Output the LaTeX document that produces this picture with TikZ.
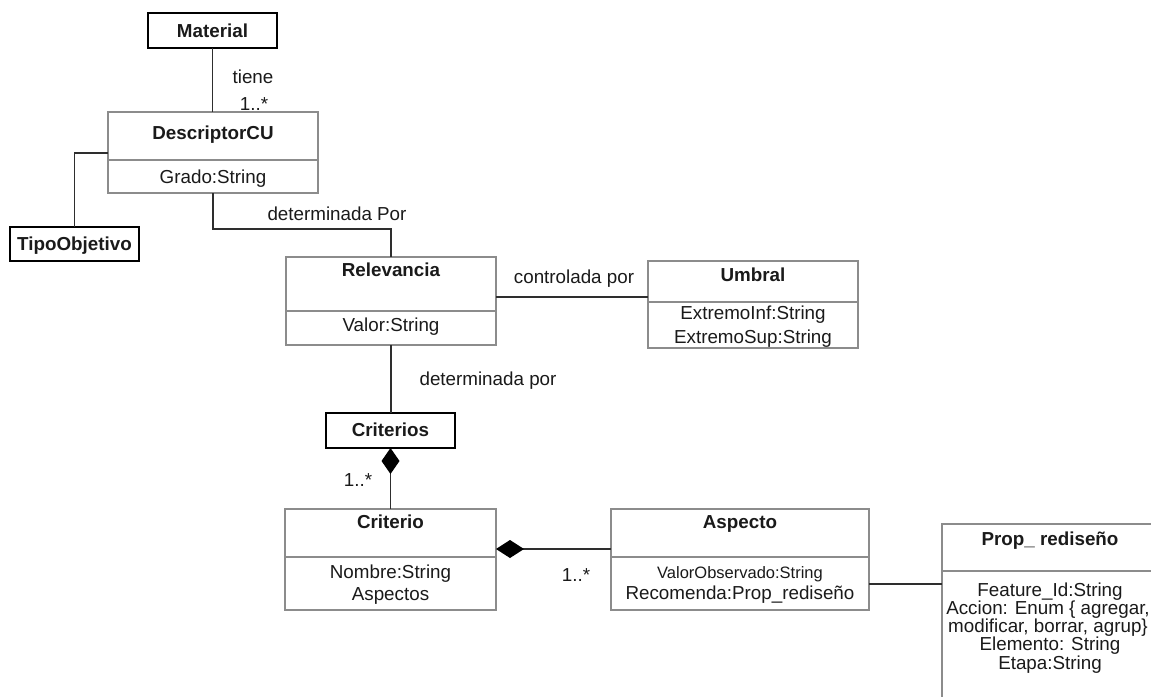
\documentclass[tikz,border=0pt]{standalone}
\usepackage{fontspec}
\setmainfont{Liberation Sans}
\usetikzlibrary{arrows.meta}
\definecolor{ink}{HTML}{1A1A1A}
\definecolor{boxgray}{HTML}{8C8C8C}
\definecolor{linegray}{HTML}{2E2E2E}
\begin{document}
\begin{tikzpicture}[x=1pt,y=-1pt,
  every node/.style={inner sep=0pt, outer sep=0pt},
  classbox/.style={draw=boxgray, line width=1.1pt, fill=white},
  refbox/.style={draw=black, line width=2pt, fill=white},
  txt/.style={text=ink, font=\fontsize{18.8pt}{22pt}\selectfont, text height=13.5pt, text depth=0pt},
  smalltxt/.style={text=ink, font=\fontsize{16.5pt}{20pt}\selectfont, text height=12pt, text depth=0pt},
  title/.style={txt, font=\fontsize{18.8pt}{22pt}\selectfont\bfseries},
  divider/.style={draw=boxgray, line width=1.1pt},
  conn/.style={draw=linegray, line width=1.5pt},
  compos/.style={conn, {Diamond[length=#1, width=18pt, color=black]}-}
]
\useasboundingbox[fill=white] (0,0) rectangle (1151,696);

% ---- Material / DescriptorCU / TipoObjetivo ----
\node[refbox, minimum width=129pt, minimum height=35pt] (mat) at (212.5,30.5) {};
\node[title] (matT) at (212.5,31) {Material};

\node[classbox, minimum width=210pt, minimum height=81pt] (desc) at (213,152.5) {};
\draw[divider] ([yshift=-48pt]desc.north west) -- ([yshift=-48pt]desc.north east);
\node[title] (descT) at (213,133) {DescriptorCU};
\node[txt] (descA) at (213,177) {Grado:String};

\node[refbox, minimum width=129pt, minimum height=34pt] (tipo) at (74.5,244) {};
\node[title] (tipoT) at (74.5,244) {TipoObjetivo};

% ---- Relevancia / Umbral ----
\node[classbox, minimum width=210pt, minimum height=88pt] (rel) at (391,301) {};
\draw[divider] ([yshift=-54pt]rel.north west) -- ([yshift=-54pt]rel.north east);
\node[title] (relT) at (391,270) {Relevancia};
\node[txt] (relA) at (391,325) {Valor:String};

\node[classbox, minimum width=210pt, minimum height=87pt] (umb) at (753,304.5) {};
\draw[divider] ([yshift=-41pt]umb.north west) -- ([yshift=-41pt]umb.north east);
\node[title] (umbT) at (753,275) {Umbral};
\node[txt] (umbA) at (753,313) {ExtremoInf:String};
\node[txt] (umbB) at (753,337) {ExtremoSup:String};

% ---- Criterios / Criterio / Aspecto / Prop_rediseno ----
\node[refbox, minimum width=129pt, minimum height=35pt] (crits) at (390.5,430.5) {};
\node[title] (critsT) at (390.5,430) {Criterios};

\node[classbox, minimum width=211pt, minimum height=101pt] (crit) at (390.5,559.5) {};
\draw[divider] ([yshift=-48pt]crit.north west) -- ([yshift=-48pt]crit.north east);
\node[title] (critT) at (390.5,522) {Criterio};
\node[txt] (critA) at (390.5,572) {Nombre:String};
\node[txt] (critB) at (390.5,594) {Aspectos};

\node[classbox, minimum width=258pt, minimum height=101pt] (asp) at (740,559.5) {};
\draw[divider] ([yshift=-48pt]asp.north west) -- ([yshift=-48pt]asp.north east);
\node[title] (aspT) at (740,522) {Aspecto};
\node[smalltxt] (aspA) at (740,572) {ValorObservado:String};
\node[txt] (aspB) at (740,593) {Recomenda:Prop\_rediseño};

\node[classbox, minimum width=216pt, minimum height=196pt] (prop) at (1050,622) {};
\draw[divider] ([yshift=-47pt]prop.north west) -- ([yshift=-47pt]prop.north east);
\node[title] (propT) at (1050,539) {Prop\_ rediseño};
\node[txt] (propA) at (1050,590) {Feature\_Id:String};
\node[txt] (propB) at (1048,608) {Accion: Enum \{ agregar,};
\node[txt] (propC) at (1048,626) {modificar, borrar, agrup\}};
\node[txt] (propD) at (1050,644) {Elemento: String};
\node[txt] (propE) at (1050,663) {Etapa:String};

% ---- connectors ----
\coordinate (bendDR) at (213,229);
\coordinate (yRU) at (0,297);
\coordinate (yCA) at (0,549);
\coordinate (yAP) at (0,584);

\draw[conn] (mat.south) -- (mat.south |- desc.north);
\draw[conn] ([yshift=-0.5pt]desc.west) -| (tipo.north);
\draw[conn] (desc.south) -- (bendDR) -| (rel.north);
\draw[conn] (rel.east |- yRU) -- (umb.west |- yRU);
\draw[conn] (rel.south) -- (rel.south |- crits.north);
\draw[compos=26pt] (crits.south) -- (crits.south |- crit.north);
\draw[compos=28pt] (crit.east |- yCA) -- (asp.west |- yCA);
\draw[conn] (asp.east |- yAP) -- (prop.west |- yAP);

% ---- association labels ----
\node[txt] (lTiene) at (253,77) {tiene};
\node[txt] (lMul1) at (254,104) {1..*};
\node[txt] (lDetP) at (337,214) {determinada Por};
\node[txt] (lCtrl) at (574,277) {controlada por};
\node[txt] (lDetp) at (488,379) {determinada por};
\node[txt] (lMul2) at (358,480) {1..*};
\node[txt] (lMul3) at (576,575) {1..*};
\end{tikzpicture}
\end{document}
